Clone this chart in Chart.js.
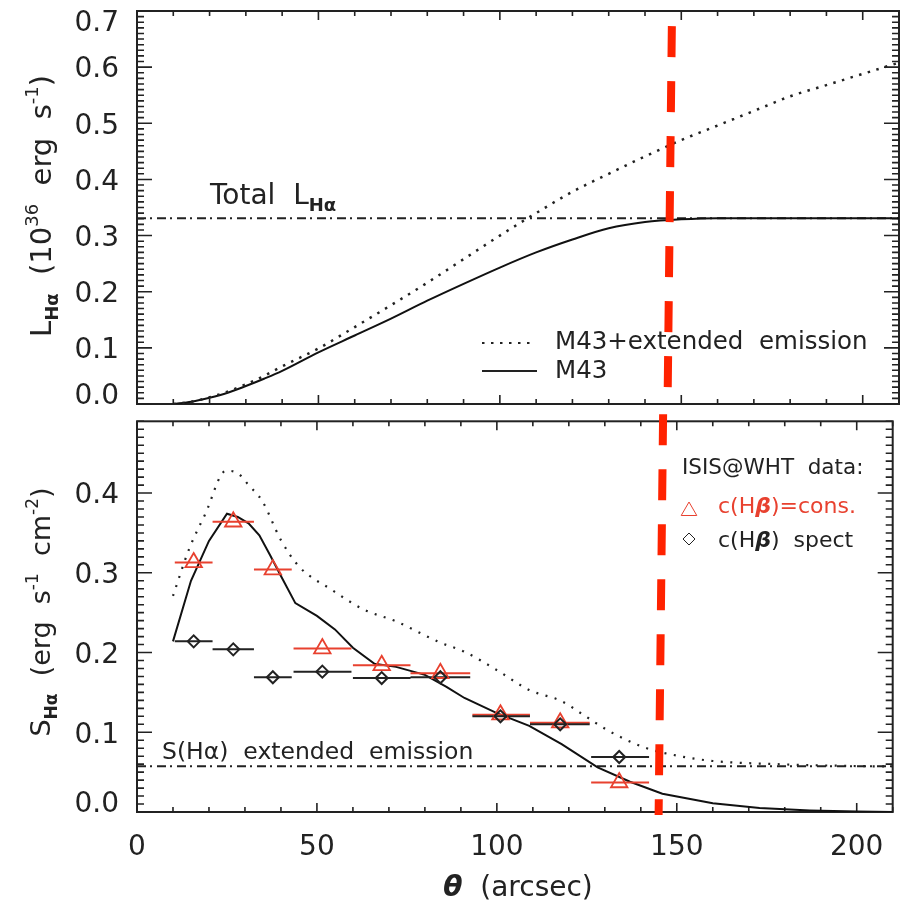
<!DOCTYPE html>
<html>
<head>
<meta charset="utf-8">
<script src="https://cdn.jsdelivr.net/npm/chart.js"></script>
<style>
  body { margin: 0; background: #fff; }
  canvas { display: block; }
</style>
</head>
<body>
<canvas id="lumChart" width="904" height="410"></canvas>
<canvas id="sbChart" width="904" height="495"></canvas>
<script>
// top panel: cumulative H-alpha luminosity vs radius
const lumX   = [10, 15, 20, 25, 30, 35, 40, 50, 60, 70, 80, 90, 100, 110, 120, 130, 140, 150, 160, 170, 180, 190, 200, 210];
const lumM43 = [0, 0.004, 0.011, 0.02, 0.032, 0.045, 0.059, 0.092, 0.122, 0.152, 0.184, 0.214, 0.243, 0.27, 0.293, 0.313, 0.324, 0.329, 0.331, 0.331, 0.331, 0.331, 0.331, 0.331];
const lumExt = [0, 0.004, 0.012, 0.022, 0.035, 0.05, 0.067, 0.099, 0.137, 0.176, 0.216, 0.258, 0.3, 0.34, 0.378, 0.41, 0.441, 0.47, 0.496, 0.522, 0.548, 0.568, 0.588, 0.608];
const totalL = 0.331;
const lumTicks = [0, 0.1, 0.2, 0.3, 0.4, 0.5, 0.6, 0.7];

// bottom panel: surface brightness profile
const sbLineX = [10, 15, 20, 25, 28, 31, 34, 37, 40, 44, 50, 55, 60, 66, 72, 80, 86, 91, 100, 109, 118, 128, 137, 146, 153, 160, 173, 187, 200, 210];
const sbM43   = [0.214, 0.29, 0.34, 0.374, 0.37, 0.362, 0.347, 0.322, 0.296, 0.262, 0.246, 0.229, 0.206, 0.186, 0.182, 0.172, 0.157, 0.143, 0.124, 0.108, 0.085, 0.056, 0.038, 0.023, 0.017, 0.011, 0.005, 0.002, 0.0005, 0];
const sbDotX  = [10, 14.5, 19, 24.7, 28, 31, 34.8, 40, 45, 54, 63, 72, 84, 91, 100, 109, 118, 124, 131, 141, 150, 160, 178, 195, 210];
const sbExt   = [0.271, 0.33, 0.374, 0.428, 0.425, 0.41, 0.39, 0.341, 0.308, 0.279, 0.254, 0.239, 0.213, 0.201, 0.178, 0.153, 0.139, 0.122, 0.102, 0.081, 0.0707, 0.064, 0.06, 0.058, 0.057];
const extS = 0.0575;

// ISIS@WHT bins
const binLo  = [10.5, 21, 32.5, 43.5, 60, 76, 93.2, 109.2, 126.2];
const binHi  = [21, 32.5, 43, 59.6, 76, 92.6, 109.2, 125.8, 142.3];
const binMid = [15.75, 26.75, 37.75, 51.5, 68, 84.3, 101, 117.6, 134];
const sConst = [0.313, 0.364, 0.304, 0.205, 0.184, 0.174, 0.122, 0.112, 0.037];
const sSpect = [0.214, 0.204, 0.169, 0.176, 0.168, 0.169, 0.12, 0.11, 0.069];
const sbTicks = [0, 0.1, 0.2, 0.3, 0.4];
const thetaTicks = [0, 50, 100, 150, 200];

// red cut drawn over both panels (data coords of each panel)
const cutTopX = [147.4, 146.2];
const cutTopY = [0.673, -0.0107];
const cutBotX = [146.2, 144.95];
const cutBotY = [0.4988, -0.0037];

const FONT = "'DejaVu Sans', sans-serif";
const INK = '#222';
const RED = '#e8412f';

function pts(xs, ys) {
  return xs.map((x, i) => ({ x: x, y: ys[i] }));
}
function bars(lo, hi, ys) {
  const out = [];
  ys.forEach((v, i) => {
    out.push({ x: lo[i], y: v }, { x: hi[i], y: v }, { x: hi[i], y: null });
  });
  return out;
}

// runs: [text, size, dy, style, color]
function drawRuns(ctx, runs, x, y, align) {
  const font = r => (r[3] || '') + ' ' + r[1] + 'px ' + FONT;
  let w = 0;
  runs.forEach(r => { ctx.font = font(r); w += ctx.measureText(r[0]).width; });
  let cx = align === 'center' ? x - w / 2 : x;
  ctx.textAlign = 'left';
  ctx.textBaseline = 'alphabetic';
  runs.forEach(r => {
    ctx.font = font(r);
    if (r[4]) ctx.fillStyle = r[4];
    ctx.fillText(r[0], cx, y + (r[2] || 0));
    cx += ctx.measureText(r[0]).width;
  });
}
function drawRotated(ctx, runs, x, y) {
  ctx.save();
  ctx.translate(x, y);
  ctx.rotate(-Math.PI / 2);
  drawRuns(ctx, runs, 0, 0, 'center');
  ctx.restore();
}
function symbol(ctx, style, radius, color, x, y) {
  ctx.save();
  ctx.strokeStyle = color;
  ctx.fillStyle = 'rgba(0,0,0,0)';
  Chart.helpers.drawPoint(ctx, { pointStyle: style, radius: radius, borderWidth: 2, rotation: 0 }, x, y);
  ctx.restore();
}

// box with inward ticks on all four sides
const framePlugin = {
  id: 'frame',
  beforeDatasetsDraw(chart, args, opts) {
    const { ctx, chartArea: a, scales: { x, y } } = chart;
    ctx.save();
    ctx.strokeStyle = INK;
    ctx.lineWidth = 2;
    ctx.strokeRect(a.left, a.top, a.right - a.left, a.bottom - a.top);
    ctx.lineWidth = 1.6;
    ctx.beginPath();
    for (let i = 0; i * opts.xStep <= x.max + 1e-9; i++) {
      const px = x.getPixelForValue(i * opts.xStep);
      const len = i % opts.xMajor === 0 ? 9 : 5;
      ctx.moveTo(px, a.bottom); ctx.lineTo(px, a.bottom - len);
      ctx.moveTo(px, a.top); ctx.lineTo(px, a.top + len);
    }
    for (let i = 0; i * opts.yStep <= y.max + 1e-9; i++) {
      const py = y.getPixelForValue(i * opts.yStep);
      const len = i % opts.yMajor === 0 ? 15 : 7;
      ctx.moveTo(a.left, py); ctx.lineTo(a.left + len, py);
      ctx.moveTo(a.right, py); ctx.lineTo(a.right - len, py);
    }
    ctx.stroke();
    ctx.restore();
  }
};

const lumNotes = {
  id: 'lumNotes',
  afterDraw(chart) {
    const ctx = chart.ctx;
    ctx.save();
    ctx.fillStyle = INK;
    drawRuns(ctx, [['Total  L', 28], ['Hα', 18, 7, 'bold']], 210, 204, 'left');
    drawRotated(ctx, [['L', 29], ['Hα', 18, 7, 'bold'], ['  (10', 29], ['36', 18, -13], ['  erg  s', 29], ['-1', 18, -13], [')', 29]], 51, 206);
    // legend
    ctx.strokeStyle = INK;
    ctx.lineWidth = 2;
    ctx.setLineDash([2.5, 6.5]);
    ctx.beginPath(); ctx.moveTo(482, 343); ctx.lineTo(533, 343); ctx.stroke();
    ctx.setLineDash([]);
    ctx.beginPath(); ctx.moveTo(482, 371); ctx.lineTo(537, 371); ctx.stroke();
    drawRuns(ctx, [['M43+extended  emission', 24.5]], 555, 349, 'left');
    drawRuns(ctx, [['M43', 24.5]], 555, 378, 'left');
    ctx.restore();
  }
};

const sbNotes = {
  id: 'sbNotes',
  afterDraw(chart) {
    const ctx = chart.ctx;
    ctx.save();
    ctx.fillStyle = INK;
    drawRotated(ctx, [['S', 27], ['Hα', 17, 7, 'bold'], ['  (erg  s', 27], ['-1', 17, -12], ['  cm', 27], ['-2', 17, -12], [')', 27]], 50, 202);
    drawRuns(ctx, [['θ', 28, 0, 'bold italic'], ['  (arcsec)', 28]], 518, 486, 'center');
    drawRuns(ctx, [['S(Hα)  extended  emission', 23.5]], 162, 349, 'left');
    drawRuns(ctx, [['ISIS@WHT  data:', 21.5]], 682, 64, 'left');
    symbol(ctx, 'triangle', 9, RED, 689, 101);
    drawRuns(ctx, [['c(H', 22, 0, '', RED], ['β', 22, 0, 'bold italic', RED], [')=cons.', 22, 0, '', RED]], 718, 103, 'left');
    symbol(ctx, 'rectRot', 6, INK, 689, 129);
    drawRuns(ctx, [['c(H', 22, 0, '', INK], ['β', 22, 0, 'bold italic', INK], [')  spect', 22, 0, '', INK]], 718, 137, 'left');
    ctx.restore();
  }
};

// edge labels sit inside the panel, as in the original
const yAxis = (max, ticks) => ({
  type: 'linear', min: 0, max: max,
  afterBuildTicks: s => { s.ticks = ticks.map(v => ({ value: v })); },
  afterFit: s => { s.width = 137; s.paddingTop = 0; s.paddingBottom = 0; },
  grid: { display: false }, border: { display: false },
  ticks: {
    padding: 10, color: INK, labelOffset: 3,
    font: { family: FONT, size: 28, lineHeight: 0.7 },
    callback: (v, i, all) => {
      const s = v.toFixed(1);
      if (i === 0) return [s, ''];
      if (i === all.length - 1 && v >= max - 1e-9) return ['', s];
      return s;
    }
  }
});
const line = (data, extra) => Object.assign({ data: data, showLine: true, pointRadius: 0, borderColor: INK, borderWidth: 2 }, extra);
const baseOpts = {
  responsive: false, animation: false,
  plugins: { legend: { display: false }, tooltip: { enabled: false } }
};

new Chart(document.getElementById('lumChart'), {
  type: 'scatter',
  data: { datasets: [
    line(pts(cutTopX, cutTopY), { borderColor: '#ff2200', borderWidth: 8, borderDash: [31, 24], clip: false }),
    line(pts(lumX, lumExt), { borderWidth: 2.5, borderDash: [2.5, 6.5], cubicInterpolationMode: 'monotone' }),
    line(pts(lumX, lumM43), { borderColor: '#111', cubicInterpolationMode: 'monotone' }),
    line([{ x: 0, y: totalL }, { x: 210, y: totalL }], { borderDash: [9, 4, 2, 5] })
  ]},
  options: Object.assign({}, baseOpts, {
    layout: { padding: { top: 11, right: 5, bottom: 6, left: 0 } },
    plugins: Object.assign({}, baseOpts.plugins, { frame: { xStep: 10, xMajor: 5, yStep: 0.01, yMajor: 10 } }),
    scales: {
      x: { type: 'linear', min: 0, max: 210, display: false },
      y: yAxis(0.7, lumTicks)
    }
  }),
  plugins: [framePlugin, lumNotes]
});

new Chart(document.getElementById('sbChart'), {
  type: 'scatter',
  data: { datasets: [
    line(pts(cutBotX, cutBotY), { borderColor: '#ff2200', borderWidth: 8, borderDash: [31, 24], clip: false }),
    { data: pts(binMid, sSpect), pointStyle: 'rectRot', pointRadius: 6, borderColor: INK, borderWidth: 2, backgroundColor: 'rgba(0,0,0,0)' },
    { data: pts(binMid, sConst), pointStyle: 'triangle', pointRadius: 9.5, borderColor: RED, borderWidth: 1.8, backgroundColor: 'rgba(0,0,0,0)' },
    line(bars(binLo, binHi, sSpect), { borderColor: INK }),
    line(bars(binLo, binHi, sConst), { borderColor: RED }),
    line(pts(sbLineX, sbM43), { borderColor: '#111' }),
    line(pts(sbDotX, sbExt), { borderWidth: 2.2, borderDash: [2, 7.5], cubicInterpolationMode: 'monotone' }),
    line([{ x: 0, y: extS }, { x: 210, y: extS }], { borderDash: [9, 4, 2, 5] })
  ]},
  options: Object.assign({}, baseOpts, {
    layout: { padding: { top: 7, right: 5, bottom: 0, left: 0 } },
    plugins: Object.assign({}, baseOpts.plugins, { frame: { xStep: 10, xMajor: 5, yStep: 0.01, yMajor: 10 } }),
    scales: {
      x: {
        type: 'linear', min: 0, max: 210,
        afterBuildTicks: s => { s.ticks = thetaTicks.map(v => ({ value: v })); },
        afterFit: s => { s.height = 93; s.paddingLeft = 0; s.paddingRight = 0; },
        grid: { display: false }, border: { display: false },
        ticks: { padding: 11, color: INK, maxRotation: 0, autoSkip: false, font: { family: FONT, size: 28 } }
      },
      y: yAxis(0.49, sbTicks)
    }
  }),
  plugins: [framePlugin, sbNotes]
});
</script>
</body>
</html>
